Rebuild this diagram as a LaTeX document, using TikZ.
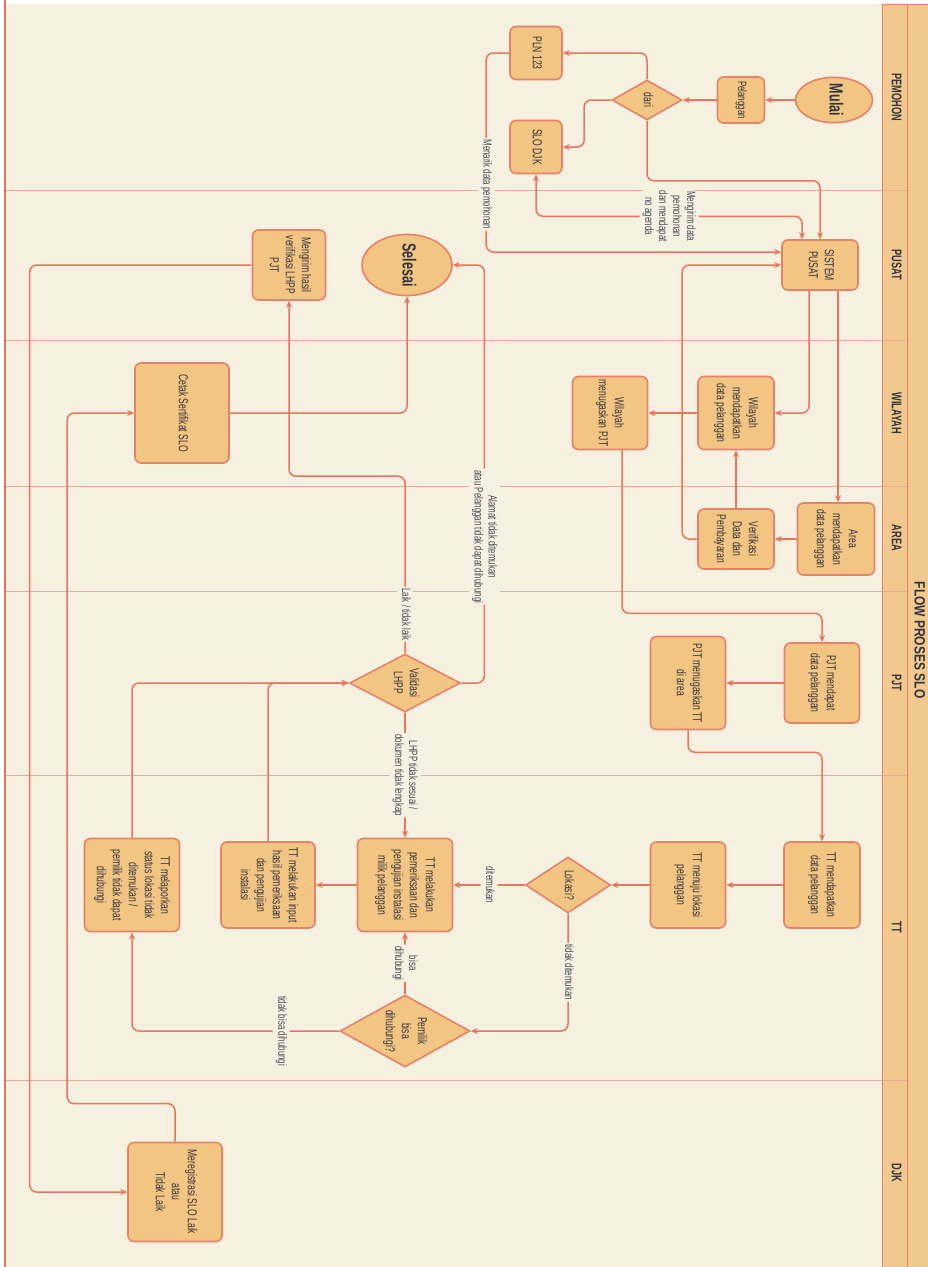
\documentclass[tikz,border=0pt]{standalone}
\usepackage{fontspec}
\setmainfont{Liberation Sans}[FakeStretch=0.66]
\newfontfamily\titlefont{Liberation Sans}[FakeStretch=0.8]
\usepackage{graphicx}
\usetikzlibrary{shapes.geometric, arrows.meta, calc}
\definecolor{paper}{HTML}{F5F0DF}
\definecolor{boxfill}{HTML}{F2C583}
\definecolor{boxline}{HTML}{E5836A}
\definecolor{flowline}{HTML}{E8765E}
\definecolor{laneline}{HTML}{ECAA98}
\definecolor{headfill}{HTML}{F1C98F}
\definecolor{ink}{HTML}{33343F}
\definecolor{labelink}{HTML}{454A58}
% rotated (top to bottom) multi-line text
\newcommand{\vtext}[1]{\rotatebox{-90}{\begin{tabular}{@{}c@{}}#1\end{tabular}}}

\begin{document}
\begin{tikzpicture}[x=1pt, y=-1pt,
  flowtip/.tip={Stealth[length=7pt,width=6pt]},
  box/.style={draw=boxline, line width=1.6pt, fill=boxfill, rounded corners=6pt, inner sep=0pt, text=ink, font=\fontsize{13}{16}\selectfont},
  decision/.style={diamond, draw=boxline, line width=1.6pt, fill=boxfill, inner sep=0pt, text=ink, font=\fontsize{13}{16}\selectfont},
  terminal/.style={ellipse, draw=boxline, line width=1.6pt, fill=boxfill, inner sep=0pt, text=ink, font=\fontsize{19}{22}\selectfont\bfseries},
  flow/.style={draw=flowline, line width=1.5pt, rounded corners=7pt, -flowtip},
  flowlabel/.style={fill=paper, inner sep=1.5pt, text=labelink, font=\fontsize{12}{14}\selectfont},
  lanename/.style={text=ink, font=\fontsize{14}{16}\selectfont\bfseries},
]
\useasboundingbox (0,0) rectangle (928,1267);
% background and swimlanes
\fill[white] (0,0) rectangle (928,1267);
\fill[paper] (5,4) rectangle (882,1267);
\fill[headfill] (882,4) rectangle (928,1267);
\foreach \ly in {190,340,486,591,775,1080}
  \draw[laneline, line width=0.8pt] (5,\ly) -- (907,\ly);
\draw[boxline, line width=1pt] (882,4) -- (928,4);
\draw[boxline, line width=1pt] (882,4) -- (882,1267);
\draw[boxline, line width=1pt] (907,4) -- (907,1267);
\draw[flowline, line width=1.5pt] (5,0) -- (5,1267);
%
\node[lanename] (lPemohon) at (895,97) {\vtext{PEMOHON}};
\node[lanename] (lPusat) at (895,265) {\vtext{PUSAT}};
\node[lanename] (lWilayah) at (895,413) {\vtext{WILAYAH}};
\node[lanename] (lArea) at (895,538) {\vtext{AREA}};
\node[lanename] (lPjt) at (895,683) {\vtext{PJT}};
\node[lanename] (lTt) at (895,927) {\vtext{TT}};
\node[lanename] (lDjk) at (895,1173) {\vtext{DJK}};
\node[text=ink, font=\titlefont\fontsize{15}{17}\selectfont\bfseries] (title) at (918,640) {\vtext{FLOW PROSES SLO}};

% PEMOHON
\node[terminal, minimum width=77pt, minimum height=38pt] (mulai) at (834,100) {\vtext{Mulai}};
\node[box, minimum width=47pt, minimum height=46pt, font=\fontsize{12}{14}\selectfont] (pelanggan) at (741,100) {\vtext{Pelanggan}};
\node[decision, aspect=1.75, minimum width=70pt, minimum height=40pt] (dari) at (647,100) {\vtext{dari}};
\node[box, minimum width=52pt, minimum height=53pt] (pln) at (536,53) {\vtext{PLN 123}};
\node[box, minimum width=52pt, minimum height=53pt] (slodjk) at (536,147) {\vtext{SLO DJK}};
% PUSAT
\node[box, minimum width=76pt, minimum height=50pt] (sistem) at (820,265) {\vtext{SISTEM\\PUSAT}};
\node[terminal, minimum width=90pt, minimum height=46pt] (selesai) at (407,265) {\vtext{Selesai}};
\node[box, minimum width=73pt, minimum height=70pt] (kirimhasil) at (289,265) {\vtext{Mengirim hasil\\verifikasi LHPP\\PJT}};
% WILAYAH
\node[box, minimum width=76pt, minimum height=73pt] (wilData) at (736,413) {\vtext{Wilayah\\mendapatkan\\data pelanggan}};
\node[box, minimum width=75pt, minimum height=73pt] (wilTugas) at (610,413) {\vtext{Wilayah\\menugaskan PJT}};
\node[box, minimum width=94pt, minimum height=100pt] (cetak) at (182,413) {\vtext{Cetak Sertifikat SLO}};
% AREA
\node[box, minimum width=77pt, minimum height=72pt] (areaData) at (836,539) {\vtext{Area\\mendapatkan\\data pelanggan}};
\node[box, minimum width=76pt, minimum height=60pt] (verif) at (736,539) {\vtext{Verifikasi\\Data dan\\Pembayaran}};
% PJT
\node[box, minimum width=75pt, minimum height=80pt] (pjtData) at (822,683) {\vtext{PJT mendapat\\data pelanggan}};
\node[box, minimum width=75pt, minimum height=93pt] (pjtTugas) at (688,683) {\vtext{PJT menugaskan TT\\di area}};
\node[decision, aspect=1.9, minimum width=111pt, minimum height=58pt] (validasi) at (405,683) {\vtext{Validasi\\LHPP}};
% TT
\node[box, minimum width=76pt, minimum height=86pt] (ttData) at (822,885) {\vtext{TT mendapatkan\\data pelanggan}};
\node[box, minimum width=75pt, minimum height=86pt] (ttMenuju) at (688,885) {\vtext{TT menuju lokasi\\pelanggan}};
\node[decision, aspect=1.52, minimum width=85pt, minimum height=56pt] (lokasi) at (568,885) {\vtext{Lokasi?}};
\node[box, minimum width=95pt, minimum height=93pt] (ttPeriksa) at (405,885) {\vtext{TT melakukan\\pemeriksaan dan\\pengujian instalasi\\milik pelanggan}};
\node[box, minimum width=94pt, minimum height=86pt] (ttInput) at (268,885) {\vtext{TT melakukan input\\hasil pemeriksaan\\dan pengujian\\instalasi}};
\node[box, minimum width=95pt, minimum height=93pt] (ttLapor) at (132,885) {\vtext{TT melaporkan\\status lokasi tidak\\ditemukan /\\pemilik tidak dapat\\dihubungi}};
\node[decision, aspect=1.8, minimum width=130pt, minimum height=72pt] (pemilik) at (405,1031) {\vtext{Pemilik\\bisa\\dihubungi?}};
% DJK
\node[box, minimum width=94pt, minimum height=99pt] (registrasi) at (175,1192) {\vtext{Meregistrasi SLO Laik\\atau\\Tidak Laik}};

% connectors
\draw[flow] (mulai.west) -- (pelanggan.east);
\draw[flow] (pelanggan.west) -- (dari.east);
\draw[flow] (dari.north) |- (pln.east);
\draw[flow] (dari.west) -- ++(-27,0) |- (slodjk.east);
\draw[flow] (dari.south) -- ++(0,60) -| (sistem.north);
\draw[flow, flowtip-flowtip] (slodjk.south) -- ++(0,42) -| node[flowlabel, pos=0.25] {\vtext{Mengirim data\\pemohonan\\dan mendapat\\no agenda}} ([xshift=-18pt]sistem.north);
\draw[flow] (pln.west) -- ++(-23,0) |- node[flowlabel, pos=0.33] {\vtext{Menarik data pemohonan}} ([yshift=13pt]sistem.west);
\draw[flow] (verif.west) -- ++(-15,0) |- (sistem.west);
\draw[flow] ([xshift=-11pt]sistem.south) |- (wilData.east);
\draw[flow] ([xshift=18pt]sistem.south) -- ([xshift=18pt]sistem.south |- areaData.north);
\draw[flow] (areaData.west) -- (verif.east);
\draw[flow] (verif.north) -- (wilData.south);
\draw[flow] (wilData.west) -- (wilTugas.east);
\draw[flow] ([xshift=12pt]wilTugas.south) -- ++(0,163) -| (pjtData.north);
\draw[flow] (pjtData.west) -- (pjtTugas.east);
\draw[flow] (pjtTugas.south) -- ++(0,22) -| (ttData.north);
\draw[flow] (ttData.west) -- (ttMenuju.east);
\draw[flow] (ttMenuju.west) -- (lokasi.east);
\draw[flow] (lokasi.west) -- node[flowlabel] {\vtext{ditemukan}} (ttPeriksa.east);
\draw[flow] (lokasi.south) |- node[flowlabel, pos=0.25] {\vtext{tidak ditemukan}} (pemilik.east);
\draw[flow] (pemilik.north) -- node[flowlabel] {\vtext{bisa\\dihubungi}} (ttPeriksa.south);
\draw[flow] (pemilik.west) -| node[flowlabel, pos=0.14] {\vtext{tidak bisa dihubungi}} (ttLapor.south);
\draw[flow] (ttPeriksa.west) -- (ttInput.east);
\draw[flow] (ttInput.north) |- (validasi.west);
\draw[flow] (ttLapor.north) |- (validasi.west);
\draw[flow] (validasi.south) -- node[flowlabel] {\vtext{LHPP tidak sesuai /\\dokumen tidak lengkap}} (ttPeriksa.north);
\draw[flow] (validasi.east) -- ++(23,0) |- node[flowlabel, pos=0.175] {\vtext{Alamat tidak ditemukan\\atau Pelanggan tidak dapat dihubungi}} (selesai.east);
\draw[flow] (validasi.north) -- node[flowlabel, pos=0.22] {\vtext{Laik / tidak laik}} ++(0,-177) -| (kirimhasil.south);
\draw[flow] (cetak.east) -| (selesai.south);
\draw[flow] (kirimhasil.west) -- ++(-222,0) |- (registrasi.west);
\draw[flow] (registrasi.north) -- ++(0,-38) -| ([xshift=-67pt]cetak.west) -- (cetak.west);
\end{tikzpicture}
\end{document}
